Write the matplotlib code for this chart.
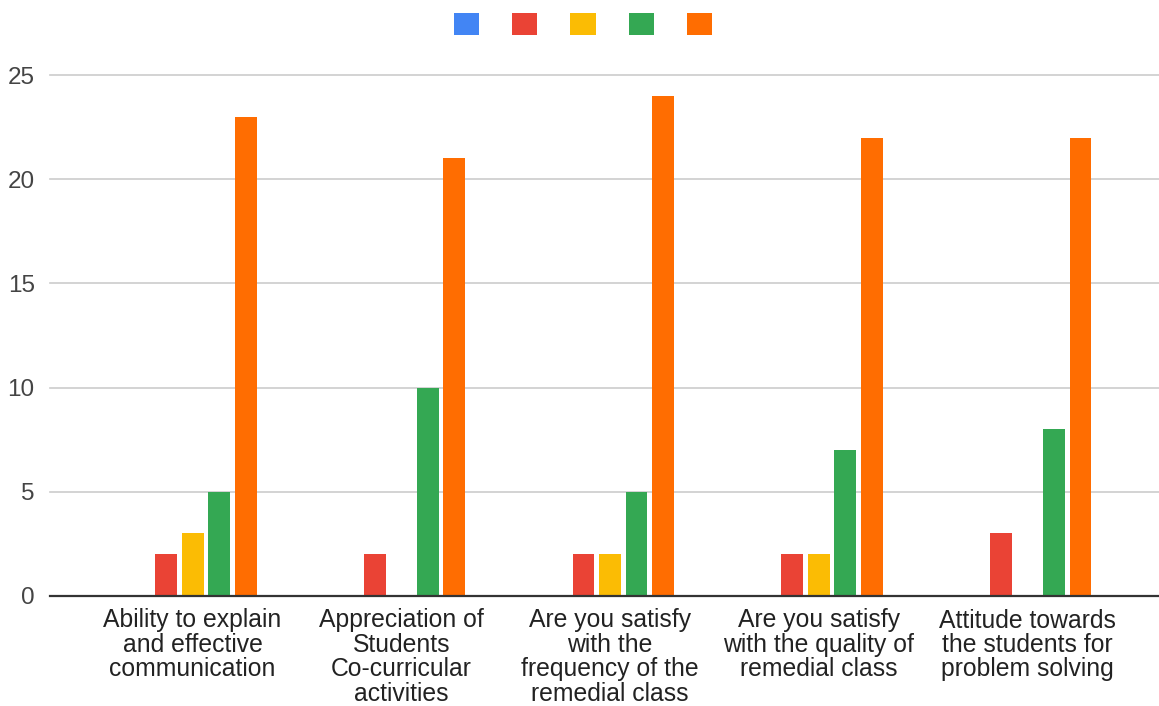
import numpy as np
import matplotlib
matplotlib.use('Agg')
import matplotlib.pyplot as plt

# Survey categories (x axis)
categories = [
    'Ability to explain\nand effective\ncommunication',
    'Appreciation of\nStudents\nCo-curricular\nactivities',
    'Are you satisfy\nwith the\nfrequency of the\nremedial class',
    'Are you satisfy\nwith the quality of\nremedial class',
    'Attitude towards\nthe students for\nproblem solving',
]

# Response counts per series (legend has no names in the original)
blue_vals = [0, 0, 0, 0, 0]
red_vals = [2, 2, 2, 2, 3]
yellow_vals = [3, 0, 2, 2, 0]
green_vals = [5, 10, 5, 7, 8]
orange_vals = [23, 21, 24, 22, 22]

series = [blue_vals, red_vals, yellow_vals, green_vals, orange_vals]
colors = ['#4285F4', '#EA4335', '#FBBC04', '#34A853', '#FF6D01']
y_ticks = [0, 5, 10, 15, 20, 25]

plt.rcParams['font.family'] = ['Liberation Sans', 'DejaVu Sans']

W, H = 1159, 706
fig = plt.figure(figsize=(W / 100, H / 100), dpi=100)
ax = fig.add_axes([50 / W, 1 - 596 / H, (W - 50) / W, (596 - 75) / H])

x = np.arange(len(categories))
step = 0.127
width = 0.105
handles = []
for i, (vals, col) in enumerate(zip(series, colors)):
    bars = ax.bar(x + (i - 2) * step, vals, width=width, color=col, zorder=3)
    handles.append(bars)

ax.set_xlim(-0.683, 4.63)
ax.set_ylim(0, 25)

# gridlines
for t in y_ticks[1:]:
    ax.axhline(t, color='#cccccc', linewidth=1.2, zorder=1, clip_on=False)
ax.axhline(0, color='#333333', linewidth=1.6, zorder=4, clip_on=False)

for s in ax.spines.values():
    s.set_visible(False)

ax.set_yticks(y_ticks)
ax.set_yticklabels([str(t) for t in y_ticks], fontsize=17.5, color='#444444')
ax.tick_params(axis='y', length=0, pad=11)

ax.set_xticks(x)
ax.set_xticklabels(categories, fontsize=17.8, color='#222222', linespacing=1.02)
ax.tick_params(axis='x', length=0, pad=9)

fig.legend(handles, [''] * len(handles), loc='center', ncol=5,
           bbox_to_anchor=(583 / W, 1 - 24 / H), frameon=False,
           fontsize=14, handlelength=1.29, handleheight=1.29,
           handletextpad=0, columnspacing=1.7, borderpad=0)

fig.savefig('out.png', dpi=100)
